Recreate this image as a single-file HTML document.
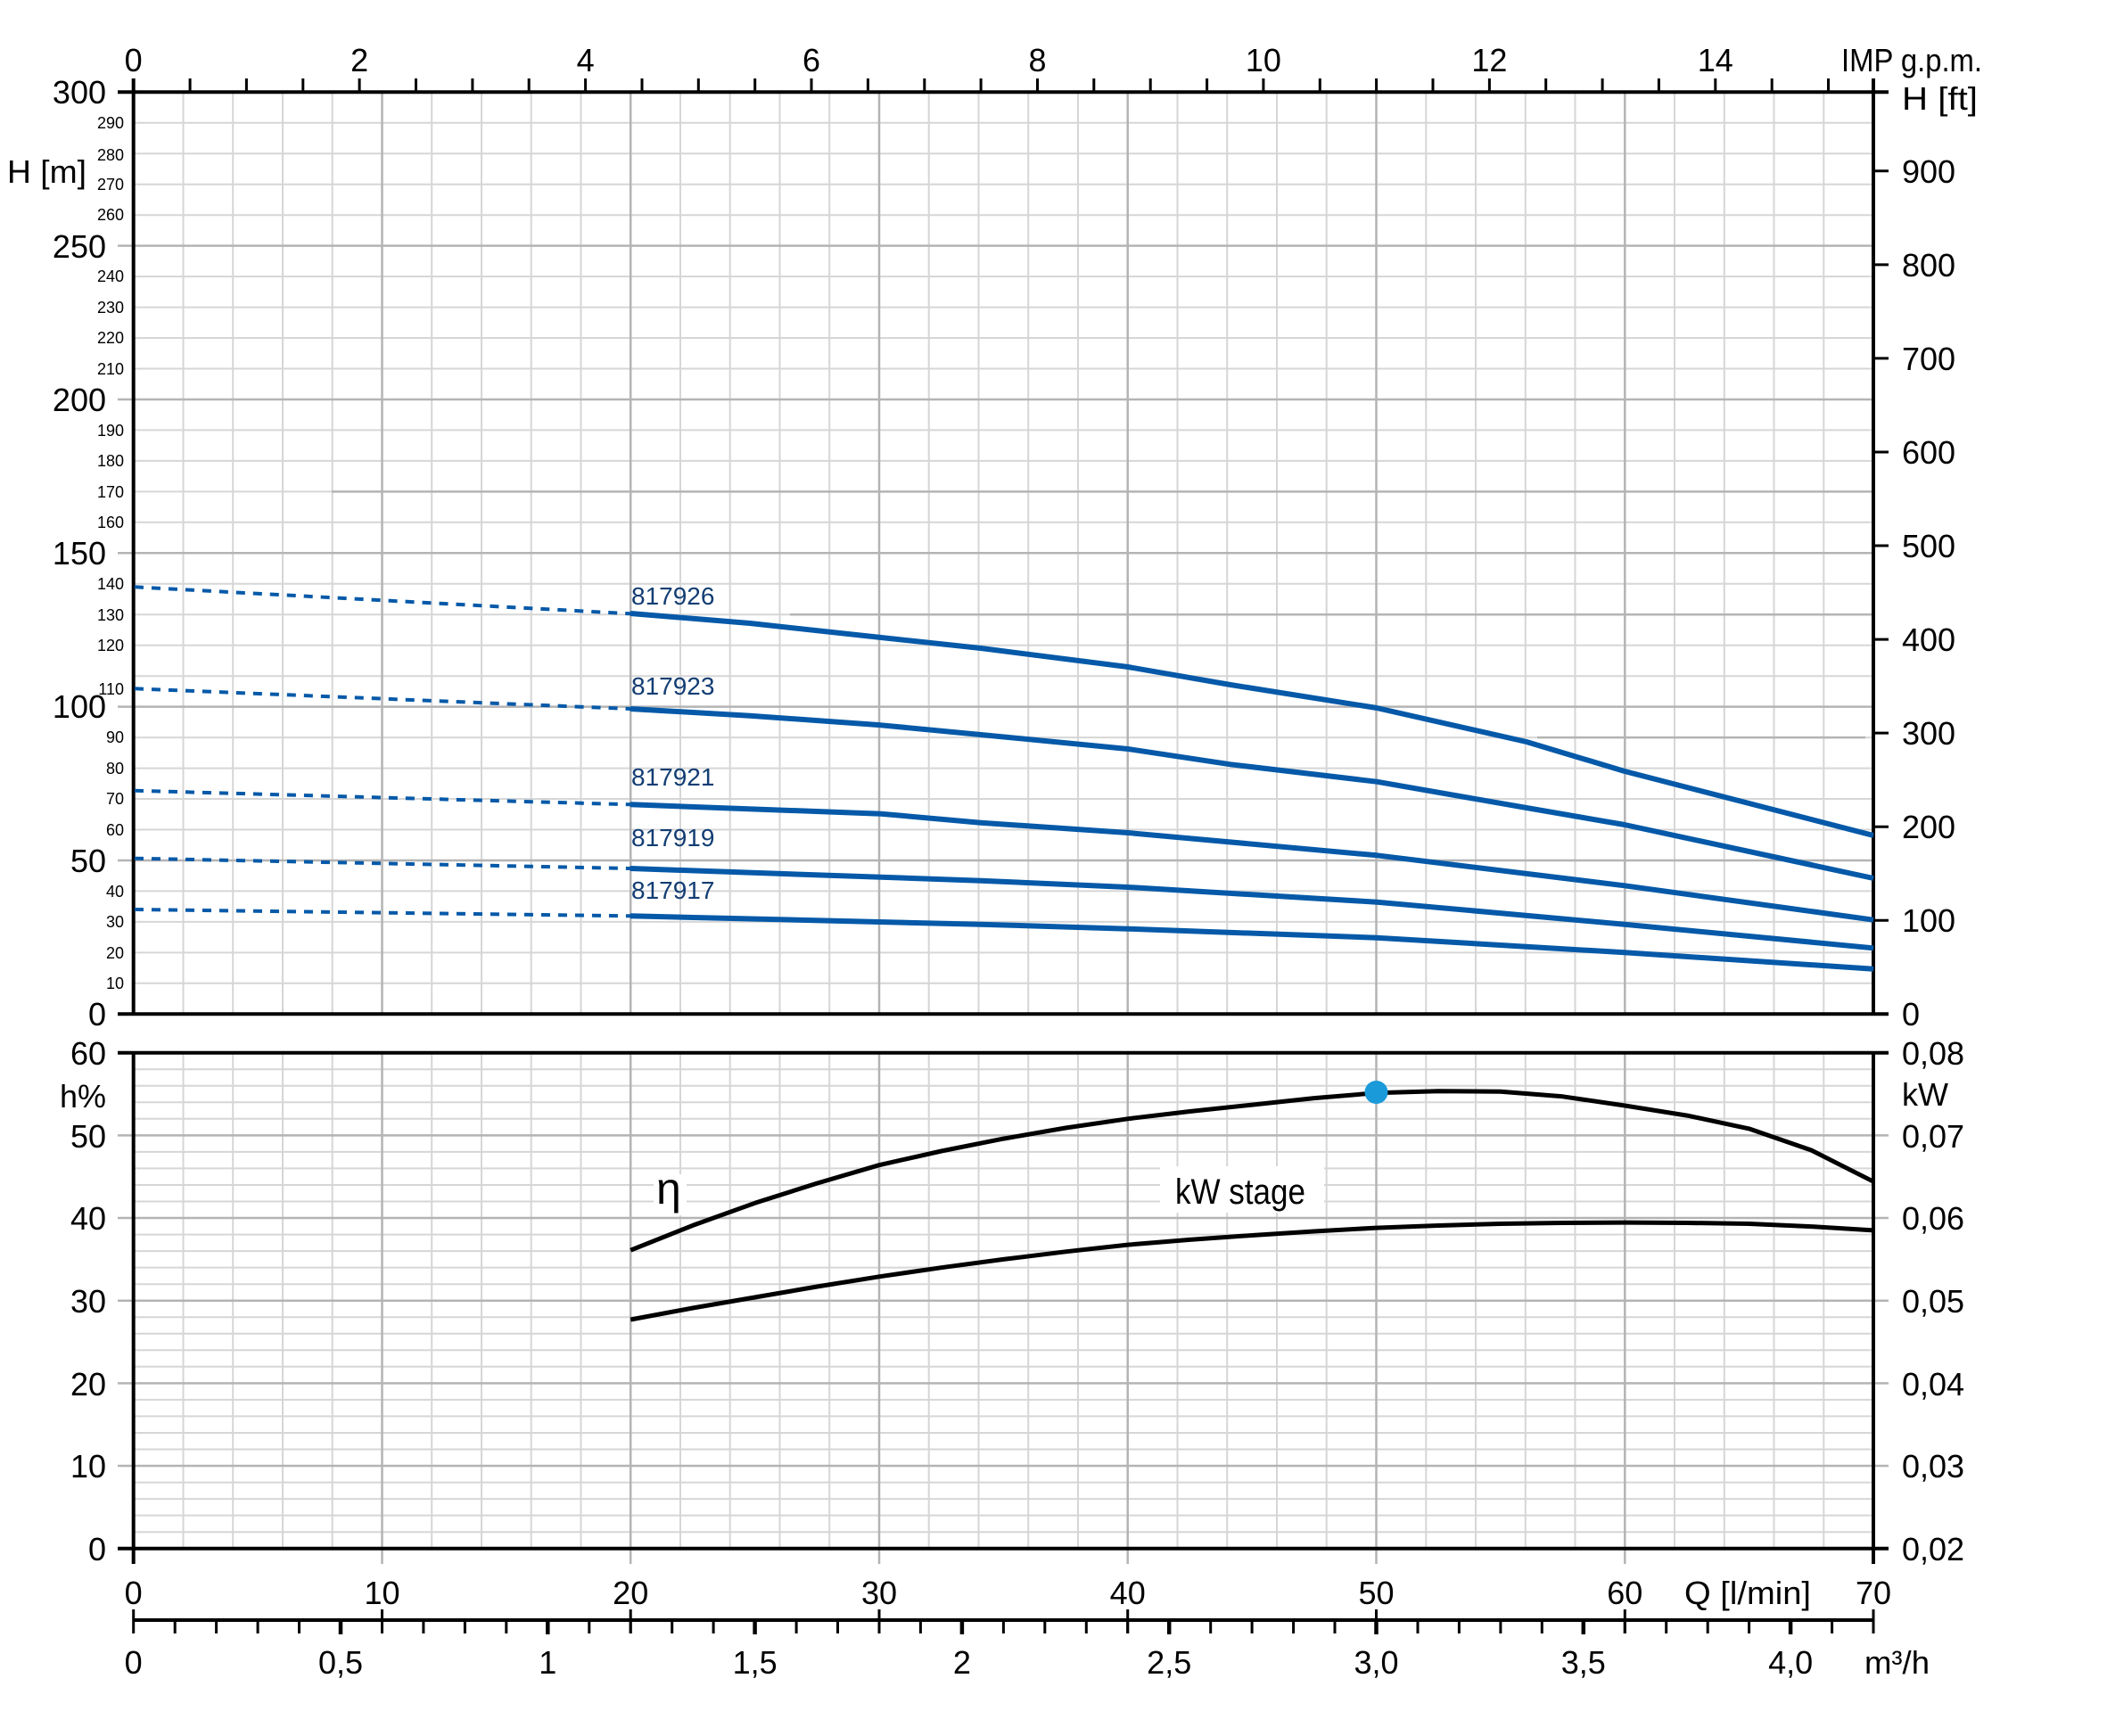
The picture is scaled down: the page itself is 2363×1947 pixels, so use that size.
<!DOCTYPE html>
<html><head><meta charset="utf-8"><style>
html,body{margin:0;padding:0;background:#fff;}
svg{display:block;}
text{font-family:"Liberation Sans",Arial,sans-serif;fill:#000;}
.b{font-size:36px;}
.s{font-size:18px;}
.lab{font-size:28px;fill:#123d73;}
</style></head><body>
<svg width="2363" height="1947" viewBox="0 0 2363 1947" xmlns="http://www.w3.org/2000/svg">
<rect x="0" y="0" width="2363" height="1947" fill="#fff"/>

<!-- ===== UPPER CHART GRID ===== -->
<g stroke="#d6d6d6" stroke-width="2" fill="none">
<path d="M205.5 103V1137M261.2 103V1137M317 103V1137M372.7 103V1137M484.2 103V1137M540 103V1137M595.7 103V1137M651.5 103V1137M763 103V1137M818.7 103V1137M874.5 103V1137M930.2 103V1137M1041.7 103V1137M1097.5 103V1137M1153.2 103V1137M1209 103V1137M1320.5 103V1137M1376.2 103V1137M1432 103V1137M1487.7 103V1137M1599.3 103V1137M1655 103V1137M1710.8 103V1137M1766.5 103V1137M1878 103V1137M1933.8 103V1137M1989.5 103V1137M2045.3 103V1137"/>
<path d="M150 1102.8H2101M150 1068.4H2101M150 1033.9H2101M150 999.4H2101M150 930.5H2101M150 896H2101M150 861.6H2101M150 827.1H2101M150 758.2H2101M150 723.7H2101M150 689.2H2101M150 654.8H2101M150 585.8H2101M150 551.4H2101M150 516.9H2101M150 482.4H2101M150 413.5H2101M150 379H2101M150 344.6H2101M150 310.1H2101M150 241.2H2101M150 206.7H2101M150 172.2H2101M150 137.8H2101"/>
</g>
<g stroke="#b4b4b4" stroke-width="2.5" fill="none">
<path d="M428.5 103V1137M707.2 103V1137M986 103V1137M1264.7 103V1137M1543.5 103V1137M1822.3 103V1137"/>
<path d="M132 965H2101M132 792.6H2101M132 620.3H2101M132 448H2101M132 275.6H2101"/>
<path d="M372 551.4H2101M886 689.2H2101M1724 827.1H2092"/>
</g>

<!-- ===== LOWER CHART GRID ===== -->
<g stroke="#d6d6d6" stroke-width="2" fill="none">
<path d="M205.5 1181V1737M261.2 1181V1737M317 1181V1737M372.7 1181V1737M484.2 1181V1737M540 1181V1737M595.7 1181V1737M651.5 1181V1737M763 1181V1737M818.7 1181V1737M874.5 1181V1737M930.2 1181V1737M1041.7 1181V1737M1097.5 1181V1737M1153.2 1181V1737M1209 1181V1737M1320.5 1181V1737M1376.2 1181V1737M1432 1181V1737M1487.7 1181V1737M1599.3 1181V1737M1655 1181V1737M1710.8 1181V1737M1766.5 1181V1737M1878 1181V1737M1933.8 1181V1737M1989.5 1181V1737M2045.3 1181V1737"/>
<path d="M150 1718.2H2101M150 1699.6H2101M150 1681.1H2101M150 1662.6H2101M150 1625.5H2101M150 1607H2101M150 1588.4H2101M150 1569.9H2101M150 1532.8H2101M150 1514.3H2101M150 1495.8H2101M150 1477.2H2101M150 1440.2H2101M150 1421.6H2101M150 1403.1H2101M150 1384.6H2101M150 1347.5H2101M150 1329H2101M150 1310.4H2101M150 1291.9H2101M150 1254.8H2101M150 1236.3H2101M150 1217.8H2101M150 1199.2H2101"/>
</g>
<g stroke="#b4b4b4" stroke-width="2.5" fill="none">
<path d="M428.5 1181V1754M707.2 1181V1754M986 1181V1754M1264.7 1181V1754M1543.5 1181V1754M1822.3 1181V1754"/>
<path d="M132 1644H2118M132 1551.4H2118M132 1458.7H2118M132 1366H2118M132 1273.4H2118"/>
</g>

<!-- ===== AXES ===== -->
<g stroke="#000" stroke-width="4" fill="none">
<path d="M132 103.3H2118M132 1137.3H2118M149.7 88V1137.3M2101 88V1137.3"/>
<path d="M132 1180.7H2118M132 1736.7H2118M149.7 1180.7V1754M2101 1180.7V1754"/>
<path d="M149.7 1817H2101"/>
</g>
<!-- top ticks -->
<g stroke="#000" stroke-width="3" fill="none">
<path d="M213.1 88V103M276.4 88V103M339.8 88V103M403.1 88V103M466.5 88V103M529.9 88V103M593.2 88V103M656.6 88V103M720 88V103M783.3 88V103M846.7 88V103M910 88V103M973.4 88V103M1036.8 88V103M1100.1 88V103M1163.5 88V103M1226.8 88V103M1290.2 88V103M1353.6 88V103M1416.9 88V103M1480.3 88V103M1543.6 88V103M1607 88V103M1670.4 88V103M1733.7 88V103M1797.1 88V103M1860.4 88V103M1923.8 88V103M1987.2 88V103M2050.5 88V103"/>
<!-- right ft ticks -->
<path d="M2101 1032.2H2118M2101 927.2H2118M2101 822.1H2118M2101 717.1H2118M2101 612H2118M2101 507H2118M2101 401.9H2118M2101 296.9H2118M2101 191.8H2118"/>
<!-- m3/h ticks -->
<path d="M196.2 1817V1832M242.6 1817V1832M289.1 1817V1832M335.5 1817V1832M428.5 1817V1832M474.9 1817V1832M521.4 1817V1832M567.8 1817V1832M660.8 1817V1832M707.2 1817V1832M753.7 1817V1832M800.1 1817V1832M893.1 1817V1832M939.5 1817V1832M986 1817V1832M1032.4 1817V1832M1125.4 1817V1832M1171.8 1817V1832M1218.3 1817V1832M1264.7 1817V1832M1357.7 1817V1832M1404.1 1817V1832M1450.6 1817V1832M1497 1817V1832M1590 1817V1832M1636.4 1817V1832M1682.9 1817V1832M1729.3 1817V1832M1822.3 1817V1832M1868.7 1817V1832M1915.2 1817V1832M1961.6 1817V1832M2054.6 1817V1832"/>
<path d="M149.7 1805V1832M428.5 1805V1832M707.2 1805V1832M986 1805V1832M1264.7 1805V1832M1543.5 1805V1832M1822.3 1805V1832M2101 1805V1832"/>
</g>
<g stroke="#000" stroke-width="4.5" fill="none">
<path d="M382 1817V1833M614.3 1817V1833M846.6 1817V1833M1078.9 1817V1833M1311.2 1817V1833M1543.5 1817V1833M1775.8 1817V1833M2008.1 1817V1833"/>
</g>

<!-- ===== HEAD CURVES ===== -->
<g stroke="#0559a8" stroke-width="4" fill="none" stroke-dasharray="10 9">
<path d="M151 658.3L707 688.3"/>
<path d="M151 772.3L707 795"/>
<path d="M151 886.7L707 902.3"/>
<path d="M151 962.7L707 974"/>
<path d="M151 1020L707 1027.3"/>
</g>
<g stroke="#0559a8" stroke-width="6" fill="none" stroke-linejoin="round" stroke-linecap="butt">
<polyline points="707,688 841,699 988,715 1100,727 1265,748 1380,768 1544,794 1712,832 1822,865 1946,897 2101,937"/>
<polyline points="707,795 841,802.7 988,813.3 1100,824 1265,840 1380,857.3 1544,876.7 1712,906 1822,925 2101,985"/>
<polyline points="707,902.3 988,912.7 1100,922.7 1265,934 1544,959.3 1822,993.3 2101,1031.7"/>
<polyline points="707,974 1100,987.7 1265,995 1544,1011.7 1822,1036.7 2101,1063.3"/>
<polyline points="707,1027.3 1100,1036.7 1265,1041.7 1544,1051.7 1822,1068.3 2101,1086.7"/>
</g>
<text class="lab" x="708" y="678">817926</text>
<text class="lab" x="708" y="779">817923</text>
<text class="lab" x="708" y="881">817921</text>
<text class="lab" x="708" y="949">817919</text>
<text class="lab" x="708" y="1008">817917</text>

<!-- ===== LOWER CURVES ===== -->
<rect x="733" y="1317" width="37" height="46" fill="#fff"/>
<rect x="1301" y="1308" width="184" height="52" fill="#fff"/>
<g stroke="#000" stroke-width="5" fill="none" stroke-linejoin="round">
<polyline points="707.2,1402.2 776.9,1374.4 846.6,1349.3 916.3,1327.1 986,1306.7 1055.7,1291 1125.4,1277.1 1195.1,1265 1264.7,1254.8 1334.4,1246.5 1404.1,1239.1 1473.8,1231.6 1543.5,1225.8 1613.2,1223.8 1682.9,1224.2 1752.6,1229.8 1822.3,1240 1892,1251.1 1961.6,1265.9 2031.3,1290 2101,1325.2"/>
<polyline points="707.2,1480 776.9,1467 846.6,1455 916.3,1443 986,1431.8 1055.7,1421.7 1125.4,1412.4 1195.1,1403.8 1264.7,1396.1 1334.4,1390.4 1404.1,1385.5 1473.8,1381 1543.5,1377.1 1613.2,1374.5 1682.9,1372.5 1752.6,1371.5 1822.3,1371.1 1892,1371.5 1961.6,1372.5 2031.3,1375.6 2101,1379.9"/>
</g>
<circle cx="1543.5" cy="1225" r="13" fill="#1a9ad9"/>
<text x="736" y="1350" style="font-size:50px">η</text>
<text x="1318" y="1350" style="font-size:40px" textLength="146" lengthAdjust="spacingAndGlyphs">kW stage</text>

<!-- ===== LABELS ===== -->
<g class="b" text-anchor="middle">
<text x="149.7" y="80">0</text>
<text x="403.1" y="80">2</text>
<text x="656.6" y="80">4</text>
<text x="910" y="80">6</text>
<text x="1163.5" y="80">8</text>
<text x="1416.9" y="80">10</text>
<text x="1670.4" y="80">12</text>
<text x="1923.8" y="80">14</text>
</g>
<text class="b" x="2065" y="80" textLength="158" lengthAdjust="spacingAndGlyphs">IMP g.p.m.</text>
<text class="b" x="2133" y="123" textLength="85" lengthAdjust="spacingAndGlyphs">H [ft]</text>
<text class="b" x="8" y="205" textLength="89" lengthAdjust="spacingAndGlyphs">H [m]</text>

<g class="b">
<text x="2133" y="205">900</text>
<text x="2133" y="310">800</text>
<text x="2133" y="415">700</text>
<text x="2133" y="520">600</text>
<text x="2133" y="625">500</text>
<text x="2133" y="730">400</text>
<text x="2133" y="835">300</text>
<text x="2133" y="940">200</text>
<text x="2133" y="1045">100</text>
<text x="2133" y="1150">0</text>
</g>

<g class="b" text-anchor="end">
<text x="119" y="116">300</text>
<text x="119" y="289">250</text>
<text x="119" y="461">200</text>
<text x="119" y="633">150</text>
<text x="119" y="805">100</text>
<text x="119" y="978">50</text>
<text x="119" y="1150">0</text>
</g>
<g class="s" text-anchor="end">
<text x="139" y="144">290</text>
<text x="139" y="180">280</text>
<text x="139" y="213">270</text>
<text x="139" y="247">260</text>
<text x="139" y="316">240</text>
<text x="139" y="351">230</text>
<text x="139" y="385">220</text>
<text x="139" y="420">210</text>
<text x="139" y="489">190</text>
<text x="139" y="523">180</text>
<text x="139" y="558">170</text>
<text x="139" y="592">160</text>
<text x="139" y="661">140</text>
<text x="139" y="696">130</text>
<text x="139" y="730">120</text>
<text x="139" y="779">110</text>
<text x="139" y="833">90</text>
<text x="139" y="868">80</text>
<text x="139" y="902">70</text>
<text x="139" y="937">60</text>
<text x="139" y="1006">40</text>
<text x="139" y="1040">30</text>
<text x="139" y="1075">20</text>
<text x="139" y="1109">10</text>
</g>

<g class="b" text-anchor="end">
<text x="119" y="1194">60</text>
<text x="119" y="1287">50</text>
<text x="119" y="1379">40</text>
<text x="119" y="1472">30</text>
<text x="119" y="1565">20</text>
<text x="119" y="1657">10</text>
<text x="119" y="1750">0</text>
</g>
<text class="b" x="67" y="1242" textLength="52" lengthAdjust="spacingAndGlyphs">h%</text>

<g class="b">
<text x="2133" y="1194">0,08</text>
<text x="2133" y="1287">0,07</text>
<text x="2133" y="1379">0,06</text>
<text x="2133" y="1472">0,05</text>
<text x="2133" y="1565">0,04</text>
<text x="2133" y="1657">0,03</text>
<text x="2133" y="1750">0,02</text>
</g>
<text class="b" x="2133" y="1240">kW</text>

<g class="b" text-anchor="middle">
<text x="149.7" y="1799">0</text>
<text x="428.5" y="1799">10</text>
<text x="707.2" y="1799">20</text>
<text x="986" y="1799">30</text>
<text x="1264.7" y="1799">40</text>
<text x="1543.5" y="1799">50</text>
<text x="1822.3" y="1799">60</text>
<text x="2101" y="1799">70</text>
</g>
<text class="b" x="1889" y="1799" textLength="142" lengthAdjust="spacingAndGlyphs">Q [l/min]</text>

<g class="b" text-anchor="middle">
<text x="149.7" y="1877">0</text>
<text x="382" y="1877">0,5</text>
<text x="614.3" y="1877">1</text>
<text x="846.6" y="1877">1,5</text>
<text x="1078.9" y="1877">2</text>
<text x="1311.2" y="1877">2,5</text>
<text x="1543.5" y="1877">3,0</text>
<text x="1775.8" y="1877">3,5</text>
<text x="2008.1" y="1877">4,0</text>
</g>
<text class="b" x="2091" y="1877" textLength="73" lengthAdjust="spacingAndGlyphs">m³/h</text>
</svg>
</body></html>
